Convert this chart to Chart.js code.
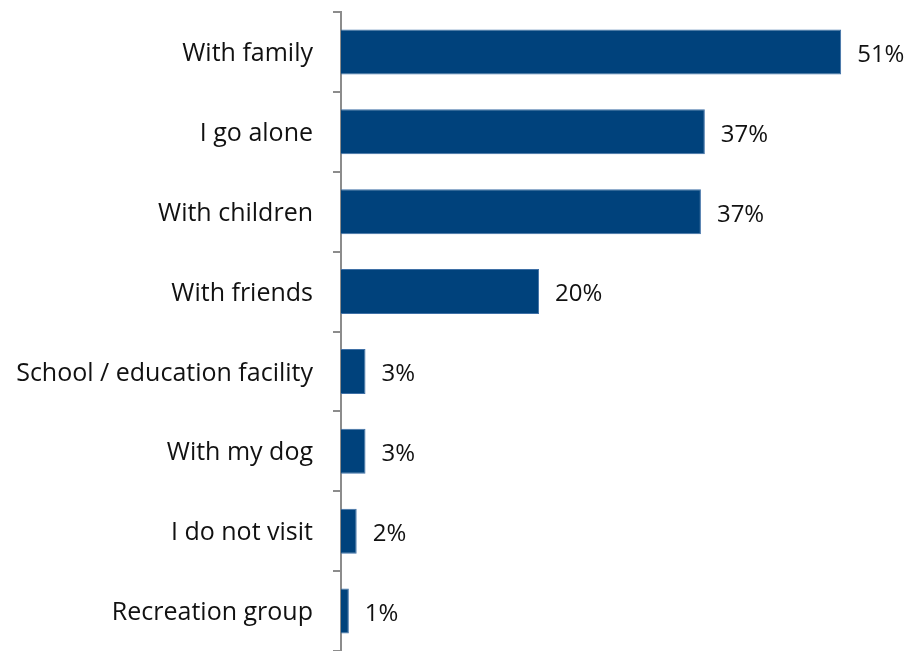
<!DOCTYPE html>
<html>
<head>
<meta charset="utf-8">
<script src="https://cdn.jsdelivr.net/npm/chart.js@4/dist/chart.umd.min.js"></script>
<style>
html,body{margin:0;padding:0;background:#fff;}
#wrap{width:910px;height:651px;position:relative;}
</style>
</head>
<body>
<div id="wrap"><canvas id="c" width="910" height="651"></canvas></div>
<script>
const categories = ["With family","I go alone","With children","With friends","School / education facility","With my dog","I do not visit","Recreation group"];
const values = [51, 37.1, 36.7, 20.2, 2.5, 2.5, 1.6, 0.8];
const valueLabels = ["51%","37%","37%","20%","3%","3%","2%","1%"];

const FONT = "'Open Sans', sans-serif";

const labelPlugin = {
  id: 'barLabels',
  afterDatasetsDraw(chart) {
    const ctx = chart.ctx;
    const meta = chart.getDatasetMeta(0);
    ctx.save();
    ctx.font = "24px " + FONT;
    ctx.fillStyle = '#111111';
    ctx.textAlign = 'left';
    ctx.textBaseline = 'middle';
    meta.data.forEach((bar, i) => {
      ctx.fillText(valueLabels[i], bar.x + 16, bar.y + 3);
    });
    ctx.restore();
  }
};

new Chart(document.getElementById('c'), {
  type: 'bar',
  data: {
    labels: categories,
    datasets: [{
      data: values,
      backgroundColor: '#00427C',
      borderColor: '#3F70A6',
      borderWidth: 1,
      barPercentage: 0.563,
      categoryPercentage: 1
    }]
  },
  options: {
    indexAxis: 'y',
    responsive: false,
    animation: false,
    events: [],
    layout: { padding: { top: 12, right: 10, bottom: -1, left: 0 } },
    plugins: { legend: { display: false }, tooltip: { enabled: false } },
    scales: {
      x: { display: false, min: 0, max: 57 },
      y: {
        afterFit(scale) { scale.width = 341; scale.paddingTop = 0; scale.paddingBottom = 0; },
        border: { display: true, color: '#8c8c8c', width: 2 },
        grid: { display: true, drawOnChartArea: false, drawTicks: true, tickLength: 8, color: '#8c8c8c', lineWidth: 2, offset: true },
        ticks: { color: '#111111', font: { family: FONT, size: 25 }, padding: 20, labelOffset: 2 }
      }
    }
  },
  plugins: [labelPlugin]
});
</script>
</body>
</html>
